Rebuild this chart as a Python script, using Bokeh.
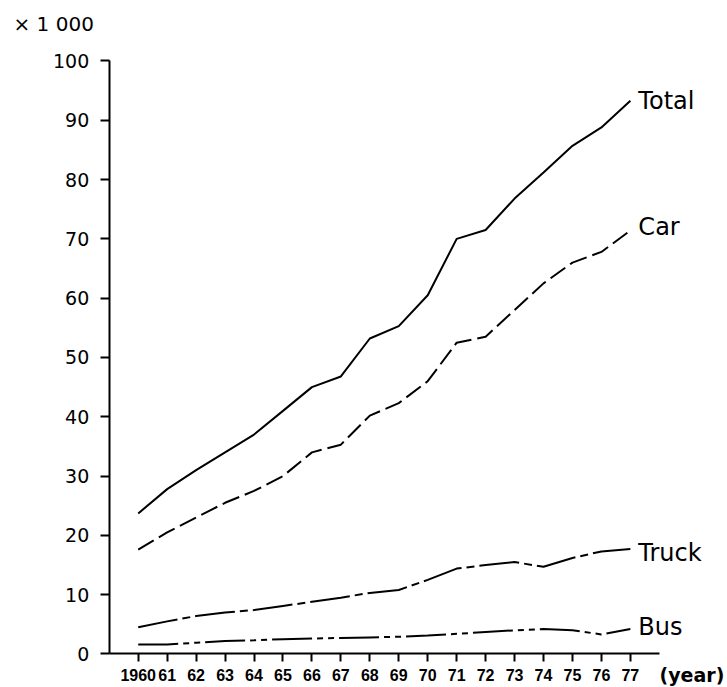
from bokeh.plotting import figure
from bokeh.models import Range1d, FixedTicker, Label
from bokeh.embed import file_html
from bokeh.resources import INLINE

# ---- data (vehicles, x 1000) ----
years = [1960, 1961, 1962, 1963, 1964, 1965, 1966, 1967, 1968,
         1969, 1970, 1971, 1972, 1973, 1974, 1975, 1976, 1977]
total = [23.7, 27.8, 31.0, 34.0, 37.0, 41.0, 45.0, 46.8, 53.2,
         55.3, 60.5, 70.0, 71.5, 76.8, 81.2, 85.7, 88.8, 93.3]
car = [17.6, 20.5, 23.0, 25.5, 27.5, 30.0, 34.0, 35.3, 40.2,
       42.3, 46.0, 52.5, 53.5, 58.0, 62.5, 66.0, 67.8, 71.4]
truck = [4.5, 5.5, 6.4, 7.0, 7.4, 8.1, 8.8, 9.5, 10.3,
         10.8, 12.5, 14.4, 15.0, 15.5, 14.7, 16.2, 17.3, 17.7]
bus = [1.6, 1.6, 1.9, 2.2, 2.3, 2.5, 2.6, 2.7, 2.8,
       2.9, 3.1, 3.4, 3.7, 4.0, 4.2, 4.0, 3.3, 4.2]
series_names = ["Total", "Car", "Truck", "Bus"]
year_labels = ["1960"] + ["%02d" % (y % 100) for y in years[1:]]
y_ticks = [0, 10, 20, 30, 40, 50, 60, 70, 80, 90, 100]

W, H = 727, 687
p = figure(width=W, height=H, output_backend="svg", toolbar_location=None,
           x_range=Range1d(1955.243, 1980.355), y_range=Range1d(-5.65, 110.20),
           min_border=0, min_border_left=0, min_border_right=0,
           min_border_top=0, min_border_bottom=0)
p.title.visible = False
p.outline_line_color = None
p.grid.visible = False
p.background_fill_color = "white"
p.border_fill_color = "white"

# axes drawn at fixed data positions inside the frame
xa = p.xaxis[0]
xa.fixed_location = 0
xa.bounds = (1959, 1978)
xa.ticker = FixedTicker(ticks=years)
xa.major_label_overrides = {y: lab for y, lab in zip(years, year_labels)}
xa.major_tick_out = 8
xa.major_tick_in = 0
xa.minor_tick_out = 0
xa.minor_tick_in = 0
xa.axis_line_width = 2
xa.major_tick_line_width = 2
xa.major_label_standoff = 7
xa.major_label_text_font = "Liberation Sans"
xa.major_label_text_font_style = "bold"
xa.major_label_text_font_size = "16px"
xa.major_label_text_color = "black"

ya = p.yaxis[0]
ya.fixed_location = 1959
ya.bounds = (0, 100)
ya.ticker = FixedTicker(ticks=y_ticks)
ya.major_tick_out = 9
ya.major_tick_in = 0
ya.minor_tick_out = 0
ya.minor_tick_in = 0
ya.axis_line_width = 2
ya.major_tick_line_width = 2
ya.major_label_standoff = 11
ya.major_label_text_font = "DejaVu Sans"
ya.major_label_text_font_size = "19px"
ya.major_label_text_color = "black"

# lines
styles = [
    (total, "solid"),
    (car, "18 6"),
    (truck, "40 5 8 5"),
    (bus, "40 5 6 5 6 5"),
]
for vals, dash in styles:
    p.line(years, vals, line_color="black", line_width=2, line_dash=dash)

# series labels at line ends
offsets = [0, 4, -4, 2]
for name, vals, yo in zip(series_names, [total, car, truck, bus], offsets):
    p.add_layout(Label(x=years[-1], y=vals[-1], x_offset=8, y_offset=yo,
                       text=name, text_baseline="middle", text_align="left",
                       text_font="DejaVu Sans", text_font_size="24px",
                       text_color="black"))

# unit label and axis title (screen units, frame == whole canvas)
p.add_layout(Label(x=13, y=H - 23, x_units="screen", y_units="screen",
                   text="\u00d7 1 000", text_baseline="middle",
                   text_font="DejaVu Sans", text_font_size="20px",
                   text_color="black"))
p.add_layout(Label(x=659, y=13, x_units="screen", y_units="screen",
                   text="(year)", text_baseline="middle",
                   text_font="DejaVu Sans", text_font_size="19px",
                   text_font_style="bold", text_color="black"))

open("out.html", "w").write(file_html(p, INLINE))
